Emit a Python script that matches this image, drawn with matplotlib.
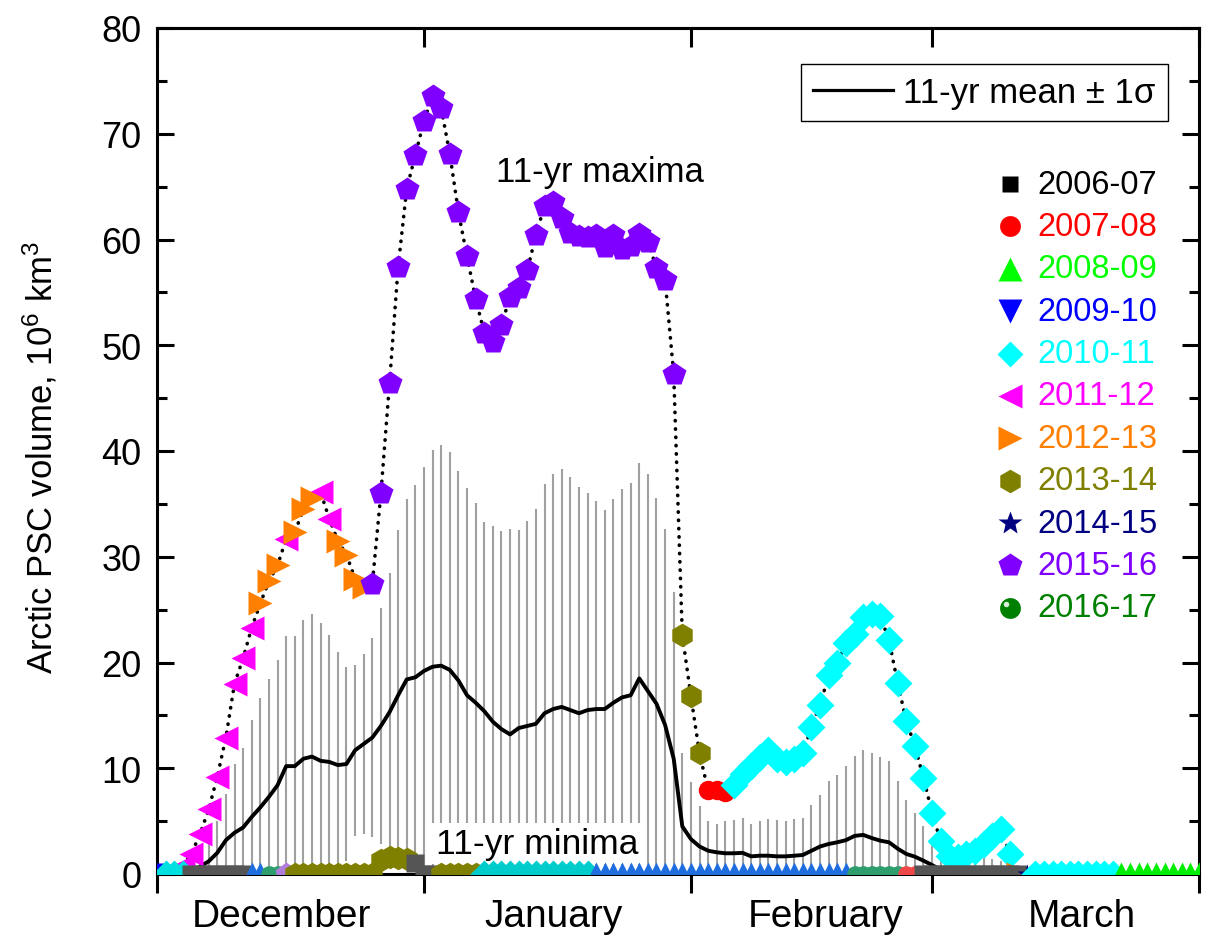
import matplotlib
matplotlib.use('Agg')
import matplotlib.pyplot as plt
from matplotlib import font_manager as fm
from matplotlib.lines import Line2D
from matplotlib.ticker import MultipleLocator, FixedLocator, NullFormatter

plt.rcParams['font.family'] = ['Liberation Sans', 'DejaVu Sans']

# ---------------- data ----------------
years = ['2006-07', '2007-08', '2008-09', '2009-10', '2010-11', '2011-12',
         '2012-13', '2013-14', '2014-15', '2015-16', '2016-17']
year_colors = ['#000000', '#ff0000', '#00ff00', '#0000ff', '#00ffff', '#ff00ff',
               '#ff8000', '#808000', '#000080', '#8000ff', '#008000']
year_markers = ['s', 'o', '^', 'v', 'D', '<', '>', 'h', '*', 'p', 'o']

month_names = ['December', 'January', 'February', 'March']
month_bounds = [0, 31, 62, 90, 121]          # day index since 1 Dec
month_label_pos = [14.5, 46.0, 77.7, 107.4]

# 11-yr mean and mean + 1 sigma (days 4..99)
mean_days = list(range(4, 100))
mean_vals = [0.2, 0.7, 1.2, 2.0, 3.2, 3.9, 4.4, 5.4, 6.3, 7.3,
             8.4, 10.2, 10.2, 10.9, 11.1, 10.7, 10.6, 10.3, 10.4, 11.7,
             12.3, 12.9, 14.0, 15.3, 16.9, 18.4, 18.6, 19.2, 19.6, 19.7,
             19.3, 18.3, 16.9, 16.2, 15.4, 14.4, 13.7, 13.2, 13.8, 14.0,
             14.2, 15.2, 15.6, 15.8, 15.5, 15.2, 15.5, 15.6, 15.6, 16.2,
             16.7, 16.9, 18.5, 17.3, 16.1, 14.1, 10.9, 4.5, 3.3, 2.6,
             2.2, 2.05, 1.96, 1.96, 2.0, 1.67, 1.73, 1.73, 1.67, 1.67,
             1.73, 1.8, 2.2, 2.6, 2.84, 3.0, 3.2, 3.6, 3.7, 3.4,
             3.15, 3.0, 2.4, 1.9, 1.64, 1.26, 0.85, 0.4, 0.0, 0.0,
             0.0, 0.0, 0.0, 0.0, 0.0, 0.0]
upper_vals = [0.6,
              1.7, 3.3, 5.0, 7.6, 10.4, 11.9, 14.6, 16.6, 18.4, 20.2,
              22.5, 22.5, 24.0, 24.6, 23.7, 22.6, 21.0, 19.6, 19.8, 20.8,
              22.3, 25.2, 28.5, 32.5, 35.5, 36.8, 38.5, 40.1, 40.6, 39.9,
              38.1, 36.5, 35.1, 33.3, 32.9, 32.4, 32.6, 32.5, 33.4, 34.5,
              36.9, 37.8, 38.3, 37.5, 36.6, 36.0, 35.3, 34.4, 35.5, 36.4,
              37.0, 38.9, 37.8, 35.6, 32.6, 26.7, 11.4, 8.7, 6.4, 5.0,
              4.7, 5.0, 5.1, 5.3, 4.7, 5.0, 5.2, 5.1, 5.0, 5.2,
              5.3, 6.5, 7.5, 8.8, 9.4, 10.2, 11.2, 11.7, 11.4, 11.1,
              10.7, 8.8, 7.0, 5.8, 4.5, 2.7, 2.3, 2.0, 1.8, 1.7,
              1.6, 1.5, 1.4, 1.2, 0.9]

# 11-yr maxima (days 3..100) and the winter holding each maximum
max_days = list(range(3, 101))
max_vals = [0.8, 1.9, 3.8, 6.1, 9.2, 12.9, 18.0, 20.4, 23.3,
            25.6, 27.7, 29.2,
            31.7,
            32.3, 34.5, 35.6,
            36.1, 33.6,
            31.5, 30.2, 27.9, 27.1,
            27.4, 36.0, 46.4, 57.4, 64.8, 68.0, 71.2, 73.6, 72.4, 68.1,
            62.6, 58.4, 54.4, 51.2, 50.3, 51.9, 54.6, 55.4, 57.1, 60.4,
            63.2, 63.5, 62.0, 60.6, 60.3, 60.2, 60.4, 59.3, 60.4, 59.1,
            59.4, 60.5, 59.8, 57.3, 56.2, 47.3,
            22.6, 16.8, 11.4,
            7.9, 7.9, 7.8,
            8.4, 9.5, 10.2, 11.1, 11.7, 10.9, 10.6, 10.9, 11.4, 13.9,
            16.0, 18.8, 20.0, 21.8, 22.7, 24.3, 24.6, 24.4, 22.1, 18.1,
            14.5, 12.1, 9.1, 5.8, 3.1, 1.7, 1.6, 1.9, 2.2, 2.8,
            3.6, 4.3, 1.9,
            0.0]
max_year = (['2011-12'] * 9 + ['2012-13'] * 3 + ['2011-12'] * 1 +
            ['2012-13'] * 3 + ['2011-12'] * 2 + ['2012-13'] * 4 +
            ['2015-16'] * 36 + ['2013-14'] * 3 + ['2007-08'] * 3 +
            ['2010-11'] * 33 + ['2012-13'] * 1)

# 11-yr minima (days 0..121), drawn as segments along the bottom
min_days = list(range(0, 122))
min_vals = [0.0] * 26 + [1.3, 1.6, 1.5, 1.4, 1.0] + [0.0] * 91
min_seg_first = [0, 1, 4, 11, 13, 15, 16, 26, 30, 31, 33, 38, 51, 81, 87, 89, 101, 102, 112]
min_seg_last = [0, 3, 10, 12, 14, 15, 25, 29, 30, 32, 37, 50, 80, 86, 88, 100, 101, 111, 121]
min_seg_color = ['#0000ff', '#00e0e0', '#555555', '#1e6ee0', '#2e9e6e', '#b07ddb',
                 '#808000', '#808000', '#555555', '#555555', '#808000', '#00cccc',
                 '#1e6ee0', '#2e9e6e', '#f04848', '#555555', '#000080', '#00ffff',
                 '#00ee00']
min_seg_marker = ['v', 'D', 's', '^', 'o', 'p', 'h', 'h', 's', 's', 'h', 'D',
                  '^', 'o', 'o', 's', '*', 'D', '^']

# ---------------- figure ----------------
fig = plt.figure(figsize=(12.09, 9.45), dpi=100)
ax = fig.add_axes([157 / 1209, 70 / 945, 1042 / 1209, 846 / 945])
ax.set_xlim(month_bounds[0], month_bounds[-1])
ax.set_ylim(0, 80)

# error bars (mean +/- 1 sigma)
lower_vals = [2 * m - u for m, u in zip(mean_vals, upper_vals)]
ax.vlines(mean_days, lower_vals, upper_vals, color='#a0a0a0', lw=1.5, zorder=1)
# mean line
ax.plot(mean_days, mean_vals, color='black', lw=2.8, zorder=2)

# maxima: dotted line + markers by year
ax.plot(max_days, max_vals, color='black', lw=2.6, ls=(0, (0.1, 2.2)),
        dash_capstyle='round', zorder=4)
msize = {'s': 12, 'o': 14, '^': 17, 'v': 17, 'D': 14, '<': 17, '>': 17,
         'h': 17, '*': 18, 'p': 18}
for yr, col, mk in zip(years, year_colors, year_markers):
    xs = [d for d, y in zip(max_days, max_year) if y == yr]
    vs = [v for v, y in zip(max_vals, max_year) if y == yr]
    if xs:
        ax.plot(xs, vs, ls='none', marker=mk, ms=msize[mk], color=col,
                mec='none', zorder=5)

# minima along the bottom
minsize = {'s': 13, 'o': 12, '^': 17, 'v': 16, 'D': 14, 'h': 17, 'p': 17, '*': 15}
for f, l, col, mk in zip(min_seg_first, min_seg_last, min_seg_color, min_seg_marker):
    xs = [d for d in min_days if f <= d <= l]
    vs = [min_vals[d] for d in xs]
    ax.plot(xs, vs, ls='none', marker=mk, ms=minsize[mk], color=col,
            mec='none', zorder=6)

# annotations
ax.text(51.4, 66.4, '11-yr maxima', ha='center', va='center', fontsize=25, zorder=7)
ax.text(44.1, 2.9, '11-yr minima', ha='center', va='center', fontsize=25.5, zorder=3,
        bbox=dict(facecolor='white', edgecolor='none', pad=3))

# axes styling
for s in ax.spines.values():
    s.set_linewidth(2.2)
ax.xaxis.set_major_locator(FixedLocator(month_bounds))
ax.xaxis.set_major_formatter(NullFormatter())
ax.xaxis.set_minor_locator(FixedLocator(month_label_pos))
ax.set_xticklabels(month_names, minor=True)
ax.tick_params(axis='x', which='major', direction='out', length=14, width=2.2, top=False)
ax.tick_params(axis='x', which='minor', length=0, pad=17, labelsize=28)

secax = ax.secondary_xaxis('top')
secax.set_xticks(month_bounds)
secax.set_xticklabels([])
secax.tick_params(direction='in', length=14, width=2.2)
secax.spines['top'].set_linewidth(2.2)

ax.yaxis.set_major_locator(MultipleLocator(10))
ax.yaxis.set_minor_locator(MultipleLocator(5))
ax.tick_params(axis='y', which='major', direction='in', length=12, width=2.2,
               left=True, right=True, labelsize=26, pad=11)
ax.tick_params(axis='y', which='minor', direction='in', length=7, width=2.2,
               left=True, right=True)

# y label (condensed face if available)
names = {f.name for f in fm.fontManager.ttflist}
if 'Liberation Sans Narrow' in names:
    lab_font, lab_size = 'Liberation Sans Narrow', 29
else:
    lab_font, lab_size = 'Liberation Sans', 25
plt.rcParams['mathtext.fontset'] = 'custom'
plt.rcParams['mathtext.rm'] = lab_font
plt.rcParams['mathtext.it'] = lab_font
fig.text(40 / 1209, 1 - 457 / 945, 'Arctic PSC volume, 10$^{6}$ km$^{3}$',
         rotation=90, ha='center', va='center', fontsize=lab_size, family=lab_font)

# legend: mean line
leg1 = ax.legend(handles=[Line2D([], [], color='black', lw=2.3)],
                 labels=['11-yr mean \u00b1 1\u03c3'], loc='upper right',
                 bbox_to_anchor=(0.9702, 0.9574), fontsize=25, frameon=True,
                 fancybox=False, framealpha=1, edgecolor='black',
                 handlelength=2.3, handletextpad=0.3, borderpad=0.35,
                 borderaxespad=0)
leg1.get_frame().set_linewidth(1.0)

# legend: years (drawn in axes coordinates)
x_mk, x_tx, y0, dy = 0.8186, 0.8445, 0.8156, 0.0501
legsize = {'s': 12, 'o': 15, '^': 17, 'v': 17, 'D': 13, '<': 17, '>': 17,
           'h': 17, '*': 18, 'p': 18}
for i, (yr, col, mk) in enumerate(zip(years, year_colors, year_markers)):
    yy = y0 - i * dy
    ax.plot([x_mk], [yy], marker=mk, ms=legsize[mk], color=col, mec='none',
            transform=ax.transAxes, clip_on=False, zorder=8)
    if yr == '2016-17':
        ax.plot([x_mk - 0.004], [yy + 0.005], marker='o', ms=4, color='#d8f0d8',
                mec='none', transform=ax.transAxes, clip_on=False, zorder=9)
    ax.text(x_tx, yy, yr, color=col, fontsize=23.5, va='center', ha='left',
            transform=ax.transAxes, zorder=8)

fig.savefig('out.png', dpi=100)
